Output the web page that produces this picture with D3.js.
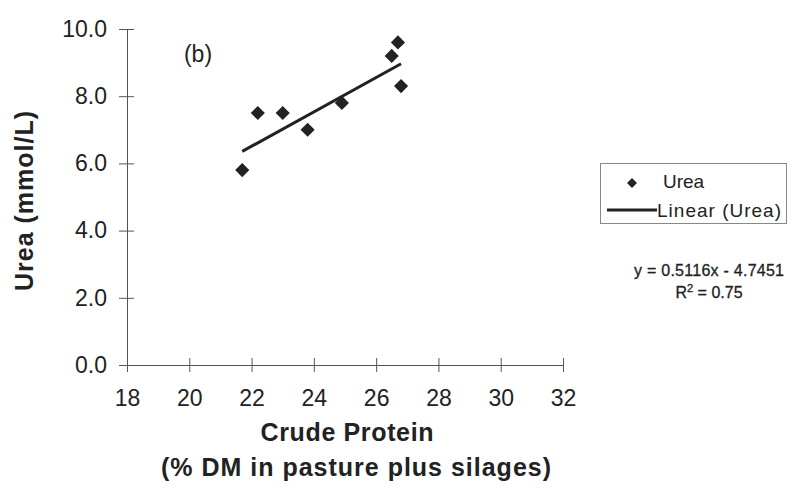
<!DOCTYPE html>
<html>
<head>
<meta charset="utf-8">
<script src="https://cdn.jsdelivr.net/npm/d3@7"></script>
<style>
  html, body { margin: 0; padding: 0; background: #fff; }
  svg { display: block; font-family: "Liberation Sans", Arial, sans-serif; }
</style>
</head>
<body>
<svg id="chart" width="793" height="490"></svg>
<script>
// Crude protein (% DM) against plasma urea (mmol/L)
const crudeProtein = [21.7, 22.2, 23.0, 23.8, 24.9, 26.5, 26.7, 26.8];
const ureaValues   = [5.8, 7.5, 7.5, 7.0, 7.8, 9.2, 9.6, 8.3];
const xTicks = [18, 20, 22, 24, 26, 28, 30, 32];
const yTicks = [0, 2, 4, 6, 8, 10];
const slope = 0.5116;
const intercept = -4.7451;
const rSquared = 0.75;

const svg = d3.select("#chart");
const ink = "#222";

const x = d3.scaleLinear().domain([18, 32]).range([127, 563]);
const y = d3.scaleLinear().domain([0, 10]).range([365, 29]);

// X axis
const gx = svg.append("g").attr("transform", `translate(0,${y(0)})`)
  .call(d3.axisBottom(x).tickValues(xTicks).tickSizeOuter(0).tickSizeInner(7).tickPadding(18));
gx.select(".domain").attr("d", `M${x(18) - 6},0.5H${x(32)}`).attr("stroke", "#555");
gx.selectAll(".tick line").attr("y1", -7).attr("y2", 7).attr("stroke", "#555");
gx.selectAll(".tick text").attr("font-size", 23).attr("fill", ink)
  .attr("font-family", "'Liberation Sans', Arial, sans-serif");

// Y axis
const gy = svg.append("g").attr("transform", `translate(${x(18)},0)`)
  .call(d3.axisLeft(y).tickValues(yTicks).tickFormat(d3.format(".1f")).tickSizeOuter(0).tickSizeInner(8).tickPadding(12));
gy.select(".domain").attr("d", `M0.5,${y(10)}V${y(0) + 6}`).attr("stroke", "#555");
gy.selectAll(".tick line").attr("x1", -8).attr("x2", 7).attr("stroke", "#555");
gy.selectAll(".tick text").attr("font-size", 23).attr("fill", ink)
  .attr("font-family", "'Liberation Sans', Arial, sans-serif");

// Axis titles
svg.append("text").attr("x", 347).attr("y", 441).attr("text-anchor", "middle")
  .attr("font-size", 25).attr("font-weight", "bold").attr("fill", ink)
  .attr("textLength", 173).attr("lengthAdjust", "spacing").text("Crude Protein");
svg.append("text").attr("x", 356).attr("y", 476).attr("text-anchor", "middle")
  .attr("font-size", 25).attr("font-weight", "bold").attr("fill", ink)
  .attr("textLength", 390).attr("lengthAdjust", "spacing").text("(% DM in pasture plus silages)");
svg.append("text").attr("transform", "translate(33,201) rotate(-90)").attr("text-anchor", "middle")
  .attr("font-size", 25).attr("font-weight", "bold").attr("fill", ink)
  .attr("textLength", 180).attr("lengthAdjust", "spacing").text("Urea (mmol/L)");

// Panel label
svg.append("text").attr("x", 198).attr("y", 62).attr("text-anchor", "middle")
  .attr("font-size", 23).attr("fill", ink).text("(b)");

// Linear trend line over the range of the data
const xExt = d3.extent(crudeProtein);
svg.append("line")
  .attr("x1", x(xExt[0])).attr("y1", y(slope * xExt[0] + intercept))
  .attr("x2", x(xExt[1])).attr("y2", y(slope * xExt[1] + intercept))
  .attr("stroke", ink).attr("stroke-width", 3);

// Data points as diamonds
const diamond = d3.symbol().type(d3.symbolSquare).size(100);
svg.append("g").selectAll("path").data(crudeProtein).join("path")
  .attr("d", diamond)
  .attr("transform", (d, i) => `translate(${x(d)},${y(ureaValues[i])}) rotate(45)`)
  .attr("fill", ink);

// Legend
const lg = svg.append("g");
lg.append("rect").attr("x", 600.5).attr("y", 163.5).attr("width", 186).attr("height", 60)
  .attr("fill", "#fff").attr("stroke", "#888").attr("stroke-width", 1);
lg.append("path").attr("d", d3.symbol().type(d3.symbolSquare).size(50))
  .attr("transform", "translate(632,183) rotate(45)").attr("fill", ink);
lg.append("text").attr("x", 663).attr("y", 188).attr("font-size", 19).attr("fill", ink).text("Urea");
lg.append("line").attr("x1", 607).attr("x2", 657).attr("y1", 210).attr("y2", 210)
  .attr("stroke", ink).attr("stroke-width", 3);
lg.append("text").attr("x", 657).attr("y", 217).attr("font-size", 19).attr("fill", ink)
  .attr("textLength", 124).text("Linear (Urea)");

// Regression equation
svg.append("text").attr("x", 709).attr("y", 276).attr("text-anchor", "middle")
  .attr("font-size", 16).attr("fill", ink).attr("stroke", ink).attr("stroke-width", 0.3)
  .attr("textLength", 150).attr("lengthAdjust", "spacing")
  .text(`y = ${slope}x - ${Math.abs(intercept)}`);
const r2 = svg.append("text").attr("x", 709).attr("y", 298).attr("text-anchor", "middle")
  .attr("font-size", 16).attr("fill", ink).attr("stroke", ink).attr("stroke-width", 0.3);
r2.append("tspan").text("R");
r2.append("tspan").attr("dy", -6).attr("font-size", 11).text("2");
r2.append("tspan").attr("dy", 6).text(` = ${rSquared}`);
</script>
</body>
</html>
